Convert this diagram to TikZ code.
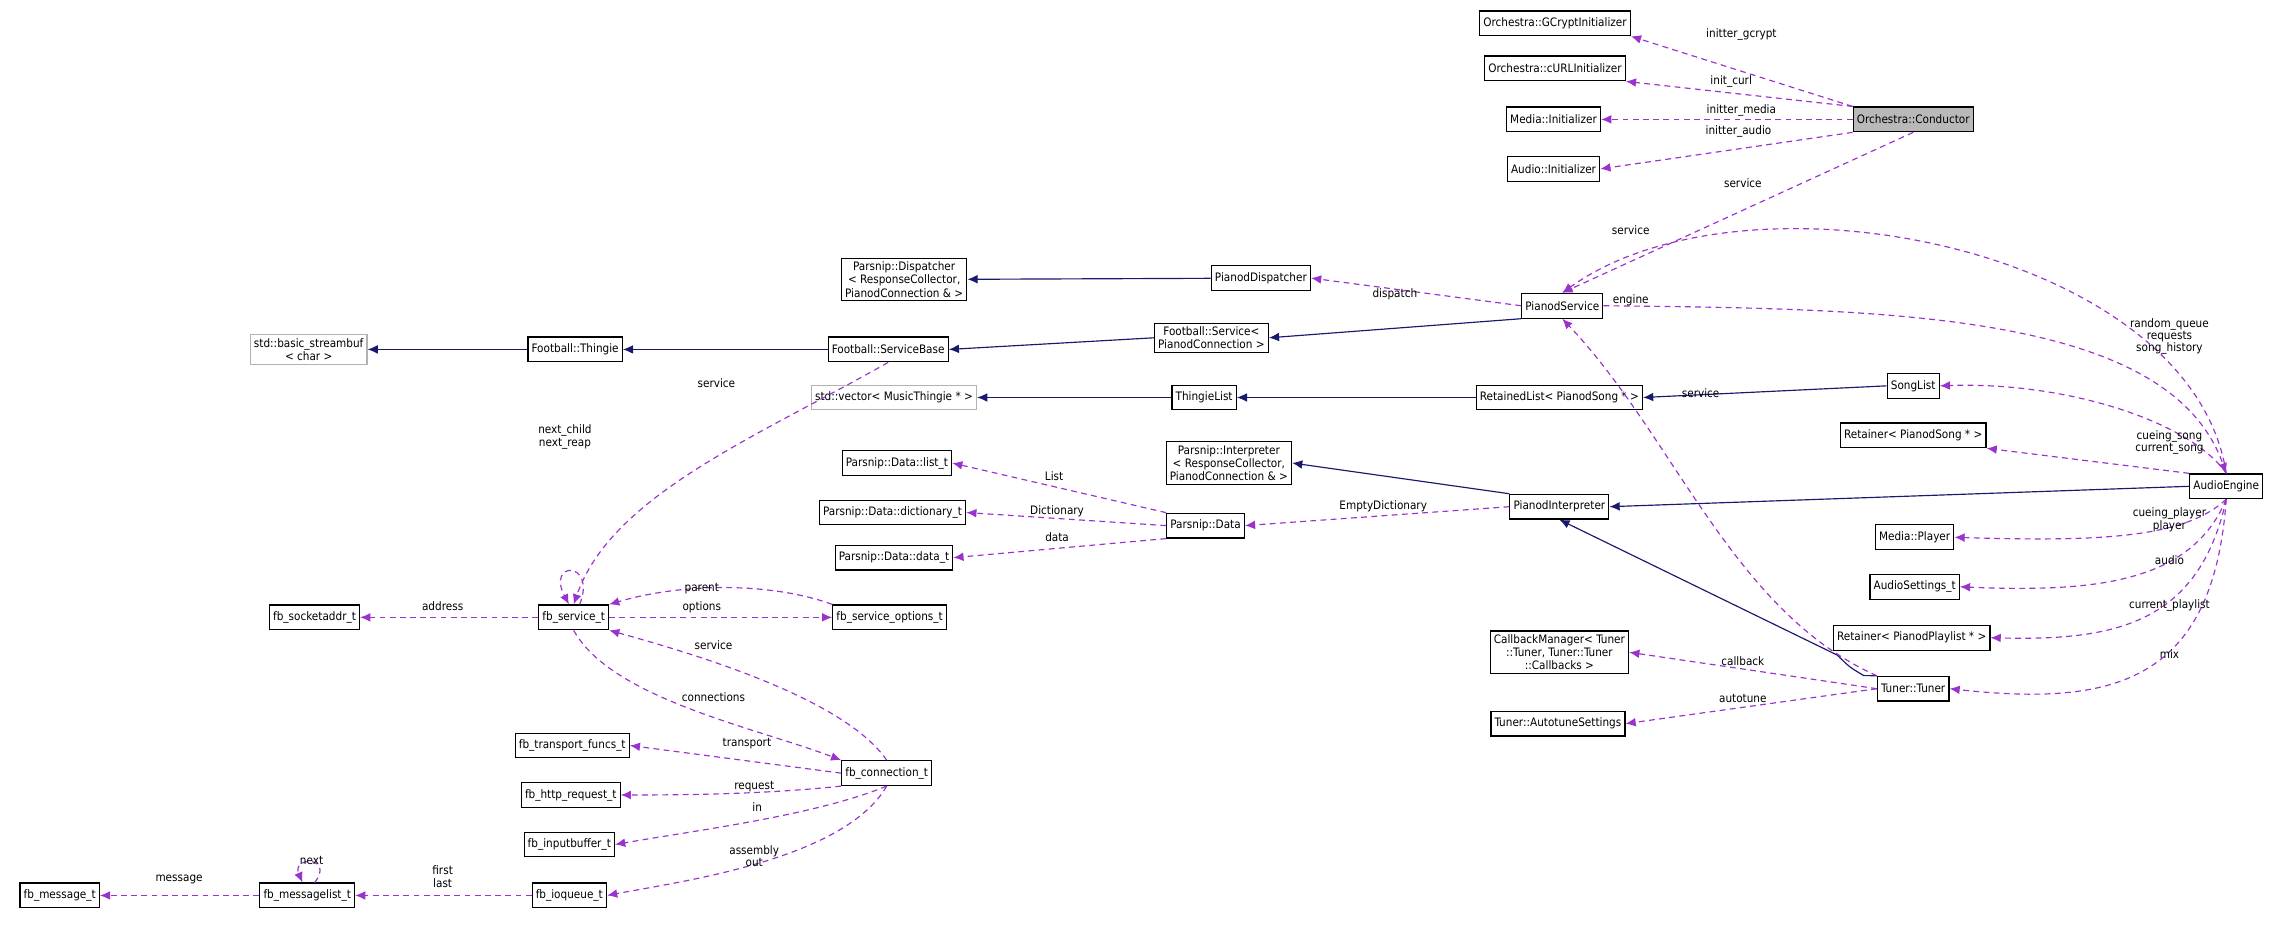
\documentclass[tikz,border=0pt]{standalone}
\usepackage{fontspec}
\setmainfont{DejaVu Sans Condensed}
\usetikzlibrary{arrows.meta}
\definecolor{edgeblue}{HTML}{191970}
\definecolor{edgepurple}{HTML}{9A32CD}
\tikzset{
  cls/.style={draw, thick, fill=white, inner sep=2.5pt, minimum height=17pt, align=center, font=\fontsize{8}{9}\selectfont},
  ext/.style={cls, draw=gray!60},
  cur/.style={cls, fill=gray!55},
  inh/.style={edgeblue, thick, -{Latex[length=7pt,width=6pt]}},
  ptr/.style={edgepurple, thick, dash pattern=on 4pt off 3pt, -{Latex[length=7pt,width=6pt]}},
  lbl/.style={font=\fontsize{8}{8.5}\selectfont, align=center, inner sep=1pt}
}
\begin{document}
\begin{tikzpicture}[x=1pt, y=-1pt]
  \useasboundingbox (0,0) rectangle (1568,635);

  % Conductor and initializers
  \node[cur] (cond) at (1314,82) {Orchestra::Conductor};
  \node[cls] (gcrypt) at (1068,16) {Orchestra::GCryptInitializer};
  \node[cls] (curl) at (1068,47) {Orchestra::cURLInitializer};
  \node[cls] (mediainit) at (1067,82) {Media::Initializer};
  \node[cls] (audioinit) at (1067,116) {Audio::Initializer};

  % service chain
  \node[cls] (psvc) at (1073,210) {PianodService};
  \node[cls] (pdisp) at (866,191) {PianodDispatcher};
  \node[cls] (psdisp) at (621,192) {Parsnip::Dispatcher\\< ResponseCollector,\\ PianodConnection \& >};
  \node[cls] (fbsvc) at (832,232) {Football::Service<\\ PianodConnection >};
  \node[cls] (sbase) at (610,240) {Football::ServiceBase};
  \node[cls] (thingie) at (395,240) {Football::Thingie};
  \node[ext] (streambuf) at (212,240) {std::basic\_streambuf\\< char >};

  % lists
  \node[cls] (songlist) at (1314,265) {SongList};
  \node[cls] (retlist) at (1071,273) {RetainedList< PianodSong * >};
  \node[cls] (thlist) at (827,273) {ThingieList};
  \node[ext] (vector) at (614,273) {std::vector< MusicThingie * >};
  \node[cls] (retsong) at (1314,299) {Retainer< PianodSong * >};

  % interpreter
  \node[cls] (psinterp) at (844,318) {Parsnip::Interpreter\\< ResponseCollector,\\ PianodConnection \& >};
  \node[cls] (engine) at (1529,334) {AudioEngine};
  \node[cls] (pinterp) at (1071,348) {PianodInterpreter};
  \node[cls] (listt) at (616,318) {Parsnip::Data::list\_t};
  \node[cls] (dictt) at (613,352) {Parsnip::Data::dictionary\_t};
  \node[cls] (datat) at (614,383) {Parsnip::Data::data\_t};
  \node[cls] (pdata) at (828,361) {Parsnip::Data};
  \node[cls] (player) at (1315,369) {Media::Player};
  \node[cls] (asettings) at (1315,403) {AudioSettings\_t};
  \node[cls] (retplay) at (1313,438) {Retainer< PianodPlaylist * >};
  \node[cls] (cbmgr) at (1071,448) {CallbackManager< Tuner\\::Tuner, Tuner::Tuner\\::Callbacks >};
  \node[cls] (tuner) at (1314,473) {Tuner::Tuner};
  \node[cls] (autotune) at (1070,497) {Tuner::AutotuneSettings};

  % football C side
  \node[cls] (sockaddr) at (216,424) {fb\_socketaddr\_t};
  \node[cls] (fsvc) at (394,424) {fb\_service\_t};
  \node[cls] (fsopt) at (611,424) {fb\_service\_options\_t};
  \node[cls] (transport) at (393,512) {fb\_transport\_funcs\_t};
  \node[cls] (conn) at (609,531) {fb\_connection\_t};
  \node[cls] (httpreq) at (392,546) {fb\_http\_request\_t};
  \node[cls] (inbuf) at (391,580) {fb\_inputbuffer\_t};
  \node[cls] (message) at (41,615) {fb\_message\_t};
  \node[cls] (msglist) at (211,615) {fb\_messagelist\_t};
  \node[cls] (ioqueue) at (391,615) {fb\_ioqueue\_t};

  % inheritance
  \draw[inh] (pdisp) -- (psdisp);
  \draw[inh] (fbsvc.west) -- (sbase.east);
  \draw[inh] (sbase) -- (thingie);
  \draw[inh] (thingie) -- (streambuf);
  \draw[inh] (psvc.south west) -- (fbsvc.east);
  \draw[inh] (retlist) -- (thlist);
  \draw[inh] (thlist) -- (vector);
  \draw[inh] (songlist.west) -- (retlist.east);
  \draw[inh] (pinterp.north west) -- (psinterp.east);
  \draw[inh] (engine.west) -- (pinterp.east);
  \draw[inh] (tuner.north west) -- (1280,464) .. controls (1270,458) .. (1262,450) -- (pinterp.south);

  % members
  \draw[ptr] (cond.north west) -- (gcrypt.south east);
  \draw[ptr] (cond.north west) -- (curl.south east);
  \draw[ptr] (cond.west) -- (mediainit.east);
  \draw[ptr] (cond.south west) -- (audioinit.east);
  \draw[ptr] (cond.south) -- (psvc.north);
  \draw[ptr] (engine.north) .. controls (1505,170) and (1200,110) .. (psvc.north);
  \draw[ptr] (psvc.east) .. controls (1300,212) and (1490,215) .. (engine.north);
  \draw[ptr] (tuner.north west) .. controls (1190,420) and (1150,300) .. (psvc.south);
  \draw[ptr] (psvc.west) -- (pdisp.east);
  \draw[ptr] (engine.north) .. controls (1505,290) and (1420,262) .. (songlist.east);
  \draw[ptr] (engine.north west) -- (retsong.south east);
  \draw[ptr] (engine.south) .. controls (1500,370) and (1440,372) .. (player.east);
  \draw[ptr] (engine.south) .. controls (1505,400) and (1440,407) .. (asettings.east);
  \draw[ptr] (engine.south) .. controls (1510,430) and (1450,440) .. (retplay.east);
  \draw[ptr] (engine.south) .. controls (1520,470) and (1450,485) .. (tuner.east);
  \draw[ptr] (tuner.west) -- (cbmgr.east);
  \draw[ptr] (tuner.west) -- (autotune.east);
  \draw[ptr] (pinterp.west) -- (pdata.east);
  \draw[ptr] (pdata.north west) -- (listt.east);
  \draw[ptr] (pdata.west) -- (dictt.east);
  \draw[ptr] (pdata.south west) -- (datat.east);
  \draw[ptr] (sbase.south) .. controls (520,300) and (420,340) .. (fsvc.north);
  \draw[ptr] (fsvc.65) .. controls (410,385) and (375,385) .. (fsvc.110);
  \draw[ptr] (fsvc.west) -- (sockaddr.east);
  \draw[ptr] (fsopt.north west) .. controls (530,400) and (470,400) .. (fsvc.north east);
  \draw[ptr] (fsvc.east) -- (fsopt.west);
  \draw[ptr] (conn.north) .. controls (580,480) and (480,450) .. (fsvc.south east);
  \draw[ptr] (fsvc.south) .. controls (420,480) and (520,500) .. (conn.north west);
  \draw[ptr] (conn.west) -- (transport.east);
  \draw[ptr] (conn.south west) .. controls (530,545) and (480,546) .. (httpreq.east);
  \draw[ptr] (conn.south) .. controls (560,560) and (480,570) .. (inbuf.east);
  \draw[ptr] (conn.south) .. controls (580,590) and (470,605) .. (ioqueue.east);
  \draw[ptr] (ioqueue) -- (msglist);
  \draw[ptr] (msglist.60) .. controls (230,588) and (200,588) .. (msglist.110);
  \draw[ptr] (msglist) -- (message);

  % labels
  \node[lbl] (lgcrypt) at (1196,24) {initter\_gcrypt};
  \node[lbl] (lcurl) at (1189,56) {init\_curl};
  \node[lbl] (lmedia) at (1196,76) {initter\_media};
  \node[lbl] (laudio) at (1194,90) {initter\_audio};
  \node[lbl] (lsvc1) at (1197,126) {service};
  \node[lbl] (lsvc2) at (1120,158) {service};
  \node[lbl] (lengine) at (1120,206) {engine};
  \node[lbl] (ldisp) at (958,202) {dispatch};
  \node[lbl] (lqueue) at (1490,231) {random\_queue\\requests\\song\_history};
  \node[lbl] (lsvc3) at (1168,270) {service};
  \node[lbl] (lcueing) at (1490,304) {cueing\_song\\current\_song};
  \node[lbl] (lplayer) at (1490,357) {cueing\_player\\player};
  \node[lbl] (laudio2) at (1490,385) {audio};
  \node[lbl] (lplaylist) at (1490,416) {current\_playlist};
  \node[lbl] (lmix) at (1490,449) {mix};
  \node[lbl] (lcb) at (1197,454) {callback};
  \node[lbl] (lauto) at (1197,480) {autotune};
  \node[lbl] (lempty) at (950,348) {EmptyDictionary};
  \node[lbl] (llist) at (724,327) {List};
  \node[lbl] (ldict) at (726,351) {Dictionary};
  \node[lbl] (ldata) at (726,369) {data};
  \node[lbl] (lsvc4) at (492,263) {service};
  \node[lbl] (lnext) at (388,300) {next\_child\\next\_reap};
  \node[lbl] (laddr) at (304,416) {address};
  \node[lbl] (lparent) at (482,404) {parent};
  \node[lbl] (loptions) at (482,417) {options};
  \node[lbl] (lsvc5) at (490,443) {service};
  \node[lbl] (lconn) at (490,479) {connections};
  \node[lbl] (ltrans) at (513,511) {transport};
  \node[lbl] (lreq) at (518,540) {request};
  \node[lbl] (lin) at (520,554) {in};
  \node[lbl] (lasm) at (518,588) {assembly\\out};
  \node[lbl] (lfirst) at (304,602) {first\\last};
  \node[lbl] (lnext2) at (214,591) {next};
  \node[lbl] (lmsg) at (123,604) {message};
\end{tikzpicture}
\end{document}
